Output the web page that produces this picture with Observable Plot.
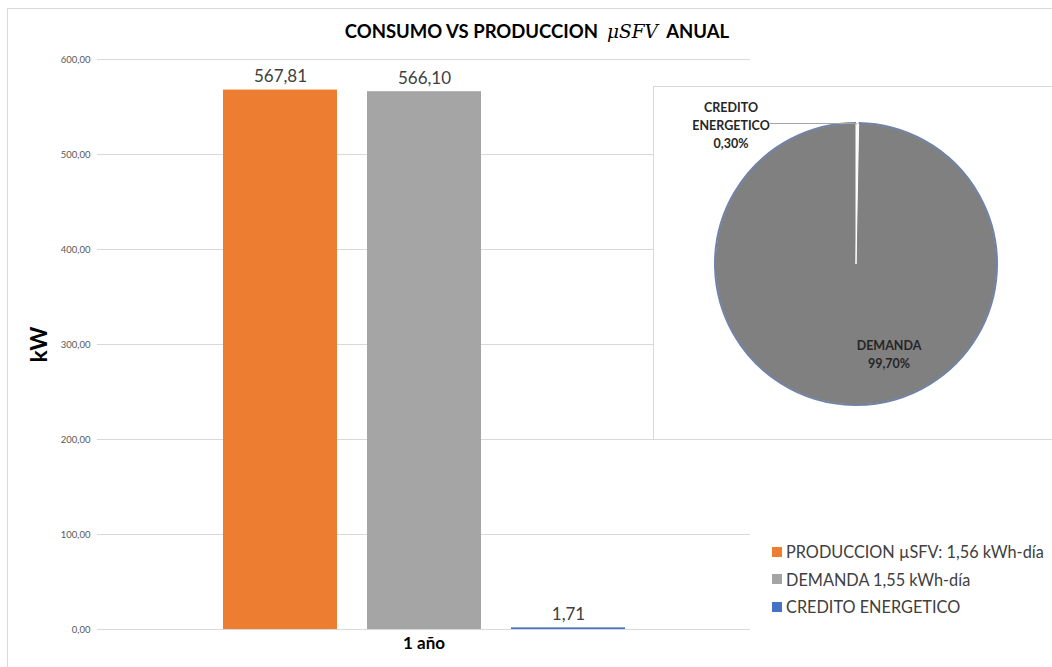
<!DOCTYPE html>
<html>
<head>
<meta charset="utf-8">
<script src="https://cdn.jsdelivr.net/npm/d3@7"></script>
<script src="https://cdn.jsdelivr.net/npm/@observablehq/plot@0.6"></script>
<style>
  body { margin: 0; background: #fff; font-family: Lato, "Open Sans", sans-serif; }
  #wrap { position: relative; width: 1052px; height: 667px; overflow: hidden; background: #fff; }
  #border { position: absolute; left: 7px; top: 8px; width: 1100px; height: 700px; border: 1px solid #d9d9d9; }
  #title { position: absolute; top: 20px; left: 287px; width: 500px; text-align: center; font-weight: bold; font-size: 18.5px; color: #000; white-space: nowrap; }
  #title .mu { font-family: "DejaVu Serif", "Liberation Serif", serif; font-style: italic; font-weight: normal; font-size: 18.5px; }
  #chart { position: absolute; left: 0; top: 0; }
  #pie { position: absolute; left: 653px; top: 86px; }
  #legend { position: absolute; left: 772px; top: 538px; }
  .lg-swatch { height: 27.5px !important; padding-bottom: 0 !important; margin: 0 !important; white-space: nowrap; }
  .lg-swatch svg { margin-right: 4px !important; }
</style>
</head>
<body>
<div id="wrap">
  <div id="border"></div>
  <div id="chart"></div>
  <div id="pie"></div>
  <div id="legend"></div>
  <div id="title">CONSUMO VS PRODUCCION&nbsp; <span class="mu">μSFV</span>&nbsp; ANUAL</div>
</div>
<script>
// ---- data ----
const categoria = ["1 año"];
const series = ["PRODUCCION µSFV: 1,56 kWh-día", "DEMANDA 1,55 kWh-día", "CREDITO ENERGETICO"];
const valores = [567.81, 566.10, 1.71];
const colores = ["#ED7D31", "#A5A5A5", "#4472C4"];
const yTicks = [0, 100, 200, 300, 400, 500, 600];
const yLabel = "kW";

const pieEtiquetas = ["CREDITO ENERGETICO", "DEMANDA"];
const pieValores = [0.30, 99.70];
const pieColores = ["#F7F7F7", "#808080"];

// ---- helpers ----
const fmt = d => d.toFixed(2).replace(".", ",");
const datos = series.map((s, i) => ({cat: categoria[0], serie: s, valor: valores[i]}));

// ---- bar chart ----
const chart = Plot.plot({
  width: 1052,
  height: 667,
  marginLeft: 97,
  marginRight: 302,
  marginTop: 59,
  marginBottom: 38,
  style: {fontFamily: "Lato, 'Open Sans', sans-serif", background: "transparent", overflow: "visible"},
  fx: {domain: categoria, padding: 0, axis: null},
  x: {domain: series, paddingInner: 0.21, paddingOuter: 0.865, axis: null},
  y: {domain: [0, 600], axis: null},
  color: {domain: series, range: colores},
  marks: [
    Plot.gridY(yTicks, {stroke: "#d9d9d9", strokeOpacity: 1}),
    Plot.axisY(yTicks, {tickSize: 0, tickPadding: 7, tickFormat: fmt, fontSize: 9.5, fill: "#595959", label: null}),
    Plot.axisY({ticks: [], label: yLabel, labelAnchor: "center", labelArrow: "none", labelOffset: 67, fontSize: 23, fontWeight: "bold", fill: "#000"}),
    Plot.barY(datos, {fx: "cat", x: "serie", y: "valor", fill: "serie"}),
    Plot.text(datos, {fx: "cat", x: "serie", y: "valor", text: d => fmt(d.valor), lineAnchor: "bottom", dy: -8, fontSize: 17, fill: "#404040"}),
    Plot.axisFx({anchor: "bottom", tickSize: 0, tickPadding: 7, fontSize: 17, fontWeight: "bold", fill: "#000", label: null})
  ]
});
document.getElementById("chart").append(chart);

// ---- pie chart ----
const pieDatos = pieEtiquetas.map((l, i) => ({label: l, valor: pieValores[i], color: pieColores[i]}));
const arcos = d3.pie().sort(null).value(d => d.valor)(pieDatos);
const pctFmt = v => v.toFixed(2).replace(".", ",") + "%";

function pieMark(index, scales, values, dims) {
  const r = 141, cx = 203, cy = 178;
  const g = d3.create("svg:g").attr("transform", `translate(${cx},${cy})`);
  const arc = d3.arc().innerRadius(0).outerRadius(r);
  g.selectAll("path.slice").data(arcos).join("path")
    .attr("class", "slice")
    .attr("d", arc)
    .attr("fill", d => d.data.color)
    .attr("stroke", "#fff")
    .attr("stroke-width", 1);
  const rim = d3.arc().innerRadius(r).outerRadius(r);
  g.append("path").attr("d", rim(arcos[1])).attr("fill", "none").attr("stroke", "#7083a6").attr("stroke-width", 2);
  // leader line for the small slice
  const a0 = (arcos[0].startAngle + arcos[0].endAngle) / 2;
  const px = r * Math.sin(a0), py = -r * Math.cos(a0);
  g.append("path")
    .attr("d", `M${-86},${py + 0.5}L${px - 2},${py + 0.5}L${px},${py + 1}`)
    .attr("fill", "none").attr("stroke", "#a6a6a6").attr("stroke-width", 1);
  const txt = (x, y, s) => g.append("text").attr("x", x).attr("y", y).attr("text-anchor", "middle")
    .attr("dy", "0.35em").attr("font-size", 12.5).attr("font-weight", "bold").attr("fill", "#262626").text(s);
  const [l1, l2] = arcos[0].data.label.split(" ");
  txt(-125, -156, l1);
  txt(-125, -138, l2);
  txt(-125, -120, pctFmt(arcos[0].data.valor));
  txt(33, 82, arcos[1].data.label);
  txt(33, 100, pctFmt(arcos[1].data.valor));
  return g.node();
}

const pie = Plot.plot({
  width: 399,
  height: 353,
  margin: 0,
  style: {fontFamily: "Lato, 'Open Sans', sans-serif", background: "#fff", overflow: "visible"},
  marks: [
    Plot.frame({stroke: "#d9d9d9"}),
    pieMark
  ]
});
document.getElementById("pie").append(pie);

// ---- legend ----
const legend = Plot.legend({
  color: {type: "ordinal", domain: series, range: colores},
  legend: "swatches",
  columns: 1,
  swatchSize: 10,
  className: "lg",
  style: {fontSize: "16.3px", fontFamily: "Lato, 'Open Sans', sans-serif", color: "#404040"}
});
document.getElementById("legend").append(legend);
</script>
</body>
</html>
